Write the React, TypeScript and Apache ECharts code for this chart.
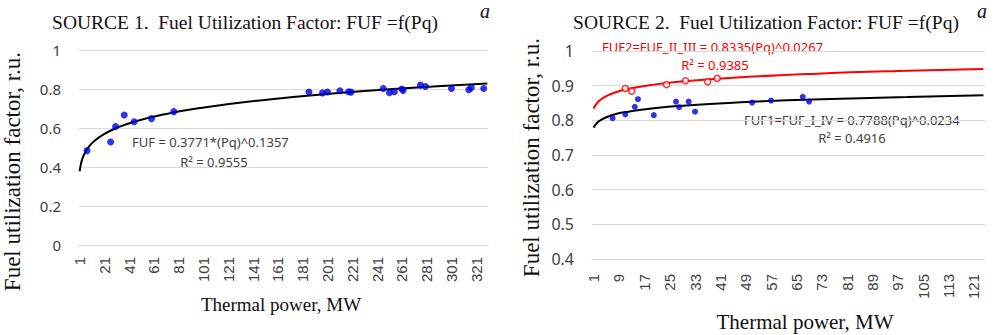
import React, { useEffect, useRef } from "react";
import * as echarts from "echarts";

// Left panel (Source 1)
const leftCategories: string[] = Array.from({ length: 330 }, (_, i) => String(i + 1));
const leftPower = [7, 26, 30, 37, 45, 59, 77, 186, 197, 201, 211, 218, 220, 246, 251, 255, 261, 262, 276, 280, 301, 315, 317, 327];
const leftFUF = [0.484, 0.528, 0.608, 0.667, 0.632, 0.648, 0.684, 0.785, 0.78, 0.785, 0.791, 0.786, 0.784, 0.803, 0.781, 0.786, 0.8, 0.793, 0.82, 0.813, 0.803, 0.796, 0.807, 0.803];
const leftTrendX = [1, 2, 3, 5, 8, 12, 20, 30, 45, 70, 100, 150, 200, 260, 330];
const leftTrendY = [0.377, 0.414, 0.438, 0.469, 0.5, 0.528, 0.566, 0.598, 0.632, 0.671, 0.704, 0.744, 0.774, 0.802, 0.828];

// Right panel (Source 2)
const rightCategories: string[] = Array.from({ length: 124 }, (_, i) => String(i + 1));
const rightBlueX = [7, 11, 14, 15, 20, 27, 28, 31, 33, 51, 57, 67, 69];
const rightBlueY = [0.806, 0.817, 0.839, 0.861, 0.815, 0.854, 0.838, 0.854, 0.825, 0.851, 0.857, 0.868, 0.854];
const rightRedX = [11, 13, 24, 30, 37, 40];
const rightRedY = [0.892, 0.884, 0.903, 0.914, 0.911, 0.921];
const trend1X = [1, 2, 3, 5, 8, 12, 20, 30, 45, 70, 100, 124];
const trend1Y = [0.779, 0.792, 0.799, 0.809, 0.818, 0.825, 0.835, 0.843, 0.851, 0.86, 0.867, 0.872];
const trend2X = [1, 2, 3, 5, 8, 12, 20, 30, 45, 70, 100, 124];
const trend2Y = [0.834, 0.849, 0.858, 0.87, 0.881, 0.891, 0.903, 0.913, 0.923, 0.934, 0.943, 0.948];

const SERIF = "'Liberation Serif', 'DejaVu Serif', serif";
const SANS = "'Noto Sans', 'Liberation Sans', sans-serif";
const GRID_COLOR = "#d9d9d9";
const LABEL_COLOR = "#404040";
const TITLE_COLOR = "#111";

const pairs = (xs: number[], ys: number[]) => xs.map((x, i) => [x - 1, ys[i]]);

export default function App() {
  const ref = useRef<HTMLDivElement>(null);
  useEffect(() => {
    if (!ref.current) return;
    const chart = echarts.init(ref.current, null, { renderer: "svg" });
    chart.setOption({
      animation: false,
      grid: [
        { left: 74, width: 414, top: 50, height: 195 },
        { left: 592, width: 393, top: 51, height: 208 },
      ],
      xAxis: [
        {
          type: "category",
          gridIndex: 0,
          data: leftCategories,
          axisLabel: { interval: 19, rotate: 90, margin: 12, fontSize: 15, color: LABEL_COLOR },
          axisTick: { show: false },
          axisLine: { show: true, lineStyle: { color: GRID_COLOR, width: 1 } },
        },
        {
          type: "category",
          gridIndex: 1,
          data: rightCategories,
          axisLabel: { interval: 7, rotate: 90, margin: 15, fontSize: 15, color: LABEL_COLOR },
          axisTick: { show: false },
          axisLine: { show: true, lineStyle: { color: GRID_COLOR, width: 1 } },
        },
      ],
      yAxis: [
        {
          type: "value",
          gridIndex: 0,
          min: 0,
          max: 1,
          interval: 0.2,
          splitLine: { show: true, lineStyle: { color: GRID_COLOR, width: 1 } },
          axisLabel: {
            margin: 18,
            fontSize: 15,
            fontFamily: SANS,
            color: LABEL_COLOR,
            formatter: (v: number) => String(+v.toFixed(1)),
          },
          name: "Fuel utilization factor, r.u.",
          nameLocation: "middle",
          nameGap: 55,
          nameTextStyle: { fontFamily: SERIF, fontSize: 23, color: TITLE_COLOR, padding: [0, 48, 0, 0] },
        },
        {
          type: "value",
          gridIndex: 1,
          min: 0.4,
          max: 1,
          interval: 0.1,
          splitLine: { show: true, lineStyle: { color: GRID_COLOR, width: 1 } },
          axisLabel: {
            margin: 18,
            fontSize: 16,
            fontFamily: SANS,
            color: LABEL_COLOR,
            formatter: (v: number) => String(+v.toFixed(1)),
          },
          name: "Fuel utilization factor, r.u.",
          nameLocation: "middle",
          nameGap: 49,
          nameTextStyle: { fontFamily: SERIF, fontSize: 23, color: TITLE_COLOR, padding: [0, 5, 0, 0] },
        },
      ],
      series: [
        {
          type: "line",
          xAxisIndex: 0,
          yAxisIndex: 0,
          data: pairs(leftTrendX, leftTrendY),
          smooth: true,
          showSymbol: false,
          lineStyle: { color: "#000", width: 2 },
          z: 2,
        },
        {
          type: "scatter",
          xAxisIndex: 0,
          yAxisIndex: 0,
          data: pairs(leftPower, leftFUF),
          symbolSize: 7,
          itemStyle: { color: "#0000e0" },
          z: 3,
        },
        {
          type: "line",
          xAxisIndex: 1,
          yAxisIndex: 1,
          data: pairs(trend2X, trend2Y),
          smooth: true,
          showSymbol: false,
          lineStyle: { color: "#ff0000", width: 2 },
          z: 2,
        },
        {
          type: "line",
          xAxisIndex: 1,
          yAxisIndex: 1,
          data: pairs(trend1X, trend1Y),
          smooth: true,
          showSymbol: false,
          lineStyle: { color: "#000", width: 2 },
          z: 2,
        },
        {
          type: "scatter",
          xAxisIndex: 1,
          yAxisIndex: 1,
          data: pairs(rightBlueX, rightBlueY),
          symbolSize: 6,
          itemStyle: { color: "#0000e0" },
          z: 3,
        },
        {
          type: "scatter",
          xAxisIndex: 1,
          yAxisIndex: 1,
          data: pairs(rightRedX, rightRedY),
          symbolSize: 6,
          itemStyle: { color: "#ffffff", borderColor: "#ff0000", borderWidth: 1.5 },
          z: 3,
        },
      ],
      graphic: [
        { type: "text", x: 245, y: 22, style: { text: "SOURCE 1.  Fuel Utilization Factor: FUF =f(Pq)", font: `19.5px ${SERIF}`, fill: TITLE_COLOR, align: "center", verticalAlign: "middle" } },
        { type: "text", x: 485, y: 11, style: { text: "a", font: `italic 20px ${SERIF}`, fill: TITLE_COLOR, align: "center", verticalAlign: "middle" } },
        { type: "text", x: 766, y: 22, style: { text: "SOURCE 2.  Fuel Utilization Factor: FUF =f(Pq)", font: `19.5px ${SERIF}`, fill: TITLE_COLOR, align: "center", verticalAlign: "middle" } },
        { type: "text", x: 982, y: 11, style: { text: "a", font: `italic 20px ${SERIF}`, fill: TITLE_COLOR, align: "center", verticalAlign: "middle" } },
        { type: "text", x: 281, y: 304, style: { text: "Thermal power, MW", font: `19px ${SERIF}`, fill: TITLE_COLOR, align: "center", verticalAlign: "middle" } },
        { type: "text", x: 805, y: 322, style: { text: "Thermal power, MW", font: `21px ${SERIF}`, fill: TITLE_COLOR, align: "center", verticalAlign: "middle" } },
        { type: "text", x: 132, y: 142, style: { text: "FUF = 0.3771*(Pq)^0.1357", font: `13px ${SANS}`, fill: LABEL_COLOR, align: "left", verticalAlign: "middle" } },
        { type: "text", x: 214, y: 162, style: { text: "R² = 0.9555", font: `13px ${SANS}`, fill: LABEL_COLOR, align: "center", verticalAlign: "middle" } },
        { type: "text", x: 602, y: 47, style: { text: "FUF2=FUF_II_III = 0.8335(Pq)^0.0267", font: `13px ${SANS}`, fill: "#ff0000", align: "left", verticalAlign: "middle" } },
        { type: "text", x: 715, y: 65, style: { text: "R² = 0.9385", font: `13px ${SANS}`, fill: "#ff0000", align: "center", verticalAlign: "middle" } },
        { type: "text", x: 744, y: 120, style: { text: "FUF1=FUF_I_IV = 0.7788(Pq)^0.0234", font: `13px ${SANS}`, fill: LABEL_COLOR, align: "left", verticalAlign: "middle" } },
        { type: "text", x: 852, y: 138, style: { text: "R² = 0.4916", font: `13px ${SANS}`, fill: LABEL_COLOR, align: "center", verticalAlign: "middle" } },
      ],
    });
    return () => chart.dispose();
  }, []);
  return (
    <div
      ref={ref}
      style={{ position: "fixed", left: 0, top: 0, width: 997, height: 335, background: "#fff" }}
    />
  );
}
